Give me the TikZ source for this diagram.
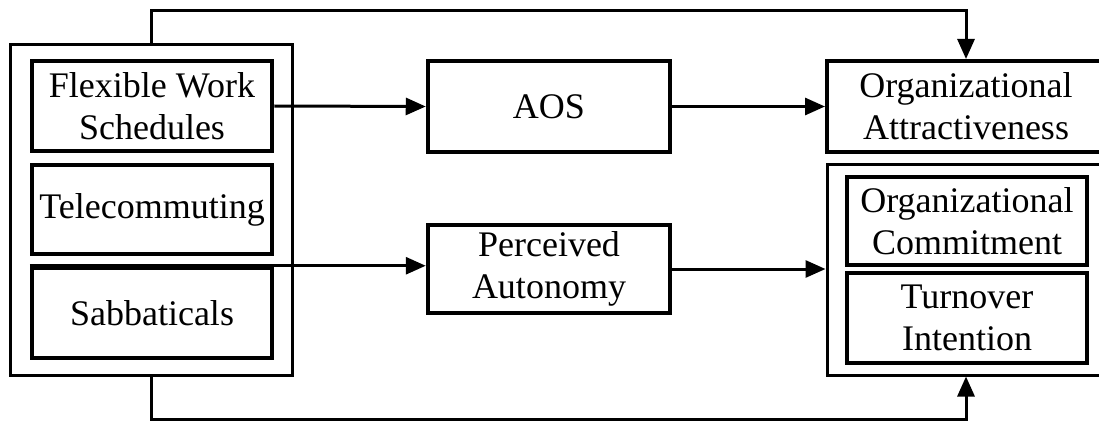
\documentclass[tikz,border=0pt]{standalone}
\usepackage{fontspec}
\setmainfont{Liberation Serif}
\usetikzlibrary{arrows.meta, positioning}
\tikzstyle{grupo} = [draw, line width=3pt, rectangle, inner sep=0pt]
\tikzstyle{caja} = [draw, line width=4.5pt, rectangle, minimum width=240pt, inner sep=0pt, align=center, font=\fontsize{36}{42}\selectfont]
\tikzstyle{flecha} = [line width=3pt, -{Triangle[length=20pt,width=17pt]}]

\begin{document}
\begin{tikzpicture}[x=1pt, y=-1pt]
		\clip (0,0) rectangle (1099,422);
		\fill[white] (0,0) rectangle (1099,422);
		\node[grupo, minimum width=282pt, minimum height=330pt] (izq) at (151,210) {};
		\node[caja, minimum height=90pt] (flex) at (152,106) {Flexible Work\\Schedules};
		\node[caja, minimum height=89pt] (tele) at (152,209.5) {Telecommuting};
		\node[caja, minimum height=90pt] (sabb) at (152,313) {Sabbaticals};
		\node[grupo, line width=4.5pt, minimum width=242pt, minimum height=91pt, align=center, font=\fontsize{36}{42}\selectfont] (aos) at (549,106.5) {AOS};
		\node[grupo, line width=4.5pt, minimum width=242pt, minimum height=88pt, align=center, font=\fontsize{36}{42}\selectfont] (perc) at (549,269) {Perceived\\Autonomy};
		\node[grupo, line width=4pt, minimum width=278pt, minimum height=91pt, align=center, font=\fontsize{36}{42}\selectfont] (atra) at (966,106.5) {Organizational\\Attractiveness};
		\node[grupo, minimum width=278pt, minimum height=210pt] (der) at (966,270) {};
		\node[caja, minimum height=88pt] (comp) at (967,221) {Organizational\\Commitment};
		\node[caja, minimum height=90pt] (turn) at (967,318) {Turnover\\Intention};
		\draw[flecha] (flex.east) -- (aos.west);
		\draw[flecha] (aos.east) -- (atra.west);
		\draw[flecha] (sabb.north west) -- (sabb.north west -| perc.west);
		\draw[flecha] (perc.east) -- (perc.east -| der.west);
		\draw[flecha] (izq.north) -- ++(0,-33) -| (atra.north);
		\draw[flecha] (izq.south) -- ++(0,43) -| (der.south);
	\end{tikzpicture}
\end{document}
